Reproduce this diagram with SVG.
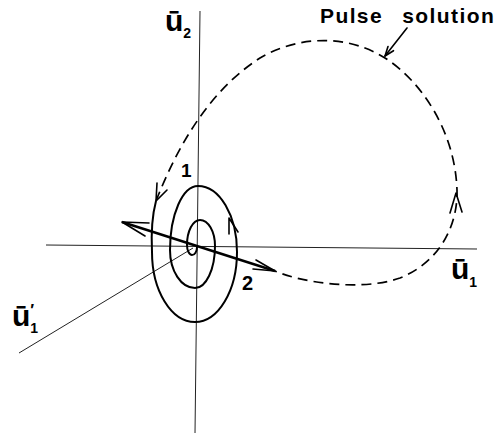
<svg xmlns="http://www.w3.org/2000/svg" width="500" height="437" viewBox="0 0 500 437">
<style>
.axis{stroke:#222;stroke-width:1;fill:none}
.spiral{stroke:#000;stroke-width:2;fill:none}
.dash{stroke:#000;stroke-width:1.7;fill:none;stroke-dasharray:10 6}
.head{stroke:#000;stroke-width:1.6;fill:none;stroke-linecap:round;stroke-linejoin:round}
.thick{stroke:#000;stroke-width:2.4;fill:none}
.lbl{font-family:"Liberation Sans",Arial,sans-serif;font-weight:bold;fill:#000}
</style>
<rect width="500" height="437" fill="#fff"/>
<g id="axes">
<line class="axis" x1="200" y1="11" x2="195" y2="433"/>
<line class="axis" x1="46" y1="245" x2="477" y2="249"/>
<line class="axis" x1="19" y1="353" x2="193" y2="248"/>
</g>
<g id="spiral">
<path class="spiral" d="M156,201 C152,216 151,232 152,252 A43 70 0 0 0 195,322 A42 70 0 0 0 237,252 A39 66 0 0 0 198,186 A28 64 0 0 0 170,250 A25 38 0 0 0 195,288 A20 42 0 0 0 215,246 A15 26 0 0 0 200,220 A13 25 0 0 0 187,245 A5 10 0 0 0 192,255 A5 8 0 0 0 197,247"/>
<polyline class="head" points="229,234 229,218 238,232"/>
</g>
<g id="pulse">
<path class="dash" d="M156,201 C178,145 210,90 260,58 C290,40 340,30 385,58 C420,80 455,130 457,190 C458,225 440,262 400,278 C360,292 300,282 275,271"/>
<polyline class="head" points="157,183 156,201 167,190"/>
<polyline class="head" points="450,213 456,193 462,212"/>
</g>
<g id="eigen">
<line class="thick" x1="122" y1="222" x2="275" y2="271"/>
<polyline class="head" points="149,223 122,222 145,236"/>
<polyline class="head" points="256,260 275,271 253,269"/>
</g>
<g id="pulse-label">
<text class="lbl" x="320" y="23" font-size="21" letter-spacing="1.4" word-spacing="12">Pulse solution</text>
<line class="head" x1="407" y1="28" x2="385" y2="56" stroke-width="1.2"/>
<polyline class="head" points="393.5,50.7 385,56 388,46.5" stroke-width="1.2"/>
</g>
<g id="labels">
<text class="lbl" x="165" y="31" font-size="30">ū<tspan font-size="14" dy="7">2</tspan></text>
<text class="lbl" x="451" y="279" font-size="30">ū<tspan font-size="14" dy="8">1</tspan></text>
<text class="lbl" x="12" y="326" font-size="30">ū<tspan font-size="14" dy="7">1</tspan><tspan font-size="16" dx="-8" dy="-17">′</tspan></text>
<text class="lbl" x="181" y="177" font-size="19">1</text>
<text class="lbl" x="242" y="290" font-size="20">2</text>
</g>
</svg>
